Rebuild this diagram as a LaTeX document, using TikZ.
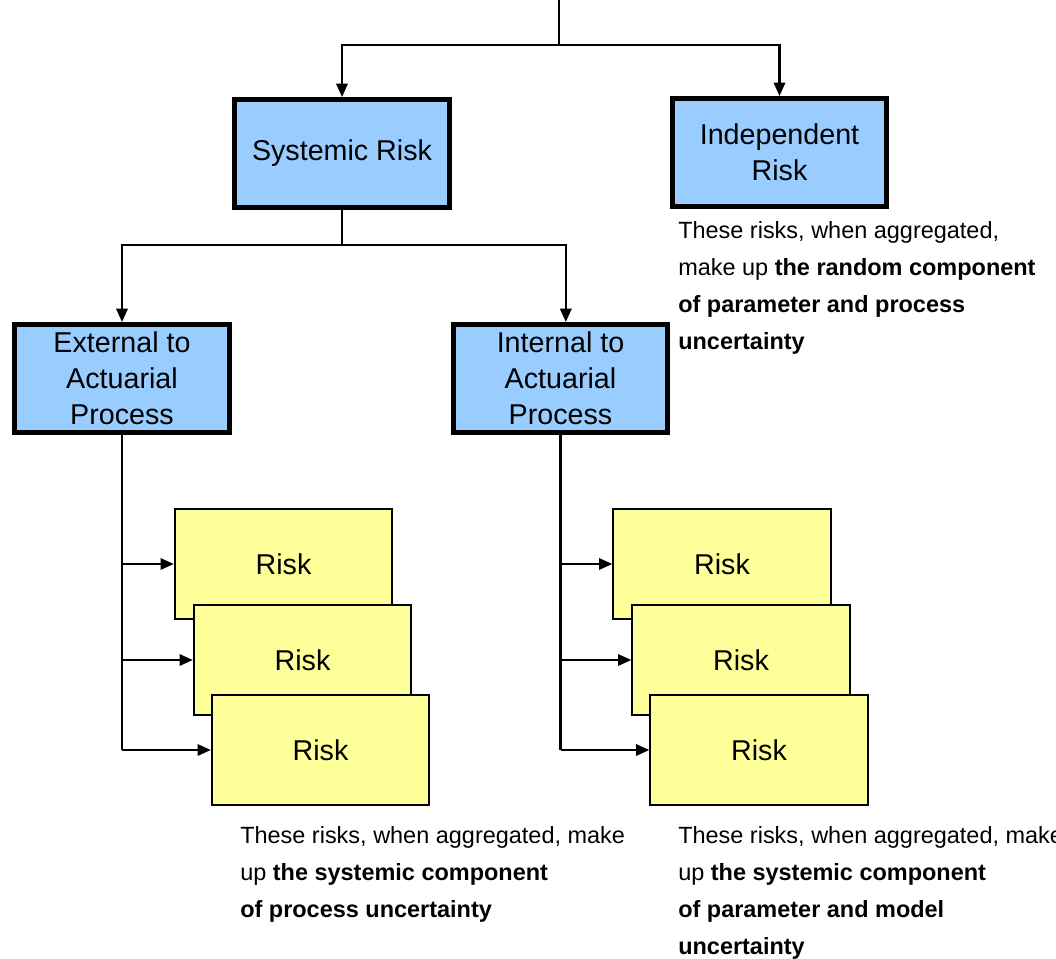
\documentclass[tikz,border=0pt]{standalone}
\usepackage{fontspec}
\setmainfont{Liberation Sans}
\usetikzlibrary{arrows.meta}
\definecolor{boxblue}{RGB}{153,204,255}
\definecolor{boxyellow}{RGB}{255,255,153}

\begin{document}
\begin{tikzpicture}[x=0.75pt, y=-0.75pt,
  riskclass/.style={draw, line width=3.75pt, fill=boxblue, minimum width=161pt,
    minimum height=81pt, align=center, inner sep=0pt,
    font=\fontsize{21.5}{27}\selectfont},
  riskitem/.style={draw, line width=1.5pt, fill=boxyellow, minimum width=163pt,
    minimum height=82.5pt, font=\fontsize{21.5}{27}\selectfont},
  note/.style={anchor=north west, align=left, inner sep=0pt,
    font=\fontsize{17.6}{27.75}\selectfont},
  link/.style={line width=1.7pt},
  arr/.style={link, -{Triangle[length=10pt,width=8.5pt]}}]
  \useasboundingbox (0,0) rectangle (1056,958);

  \pgfmathsetmacro{\RightShift}{438.5}

  % risk classes
  \node[riskclass] (sys) at (342,153.5) {Systemic Risk};
  \node[riskclass] (ind) at (779.5,152.5) {Independent\\Risk};
  \node[riskclass] (ext) at (122,378.5) {External to\\Actuarial\\Process};
  \node[riskclass] (int) at (560.5,378.5) {Internal to\\Actuarial\\Process};

  % stacked risks
  \foreach \n/\x/\y in {1/283.5/564, 2/302.5/660, 3/320.5/750}{
    \node[riskitem] (ext\n) at (\x,\y) {Risk};
    \node[riskitem] (int\n) at (\x+\RightShift,\y) {Risk};
  }

  \coordinate (top) at (559,0);
  \coordinate (split) at (559,45);
  \draw[link] (top) -- (split);
  \draw[arr] (split) -| (sys.north);
  \draw[arr] (split) -| (ind.north);

  \draw[link] (sys.south) -- ++(0,35) coordinate (splittwo);
  \draw[arr] (splittwo) -| (ext.north);
  \draw[arr] (splittwo) -| ([xshift=4pt]int.north);

  \draw[link] (ext.south) -- (ext.south |- ext3.west);
  \draw[link] (int.south) -- (int.south |- int3.west);
  \foreach \n in {1,2,3}{
    \draw[arr] (ext.south |- ext\n.west) -- (ext\n.west);
    \draw[arr] (int.south |- int\n.west) -- (int\n.west);
  }

  % notes
  \node[note] (indnote) at (678,221) {These risks, when aggregated,\\make up \textbf{the random component}\\\textbf{of parameter and process}\\\textbf{uncertainty}};
  \node[note] (extnote) at (240,826) {These risks, when aggregated, make\\up \textbf{the systemic component}\\\textbf{of process uncertainty}};
  \node[note] (intnote) at (678,826) {These risks, when aggregated, make\\up \textbf{the systemic component}\\\textbf{of parameter and model}\\\textbf{uncertainty}};
\end{tikzpicture}
\end{document}
